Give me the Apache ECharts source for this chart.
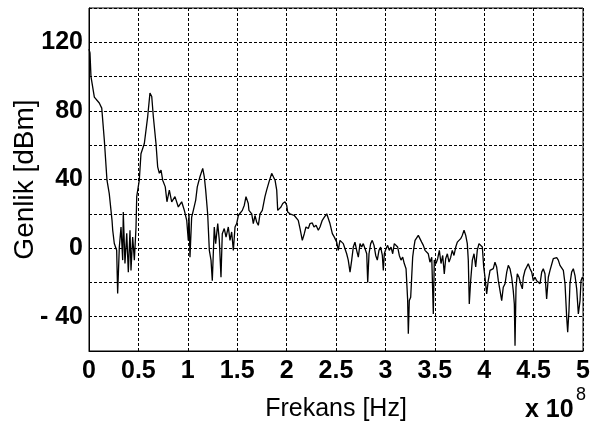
<!DOCTYPE html>
<html>
<head>
<meta charset="utf-8">
<script src="https://cdn.jsdelivr.net/npm/echarts@6/dist/echarts.min.js"></script>
<style>
  html, body { margin: 0; padding: 0; background: #fff; }
  #chart { width: 599px; height: 426px; }
</style>
</head>
<body>
<div id="chart"></div>
<script>
// frequency in units of 1e8 Hz, amplitude in dBm
const freq = [
  0.000, 0.010, 0.020, 0.054, 0.104, 0.129, 0.155, 0.182, 0.205, 0.233, 0.240, 0.256, 0.280, 0.290, 0.307, 0.324,
  0.341, 0.347, 0.364, 0.382, 0.398, 0.415, 0.425, 0.442, 0.459, 0.476, 0.483, 0.509, 0.526, 0.560, 0.594, 0.617,
  0.635, 0.651, 0.678, 0.695, 0.712, 0.729, 0.746, 0.772, 0.789, 0.813, 0.837, 0.870, 0.904, 0.938, 0.965, 0.989,
  1.005, 1.012, 1.022, 1.039, 1.056, 1.080, 1.096, 1.123, 1.151, 1.167, 1.181, 1.201, 1.218, 1.235, 1.248, 1.268,
  1.282, 1.303, 1.319, 1.336, 1.349, 1.369, 1.387, 1.410, 1.427, 1.444, 1.461, 1.478, 1.495, 1.511, 1.531, 1.552,
  1.572, 1.589, 1.612, 1.619, 1.647, 1.663, 1.680, 1.697, 1.714, 1.731, 1.754, 1.781, 1.798, 1.822, 1.849, 1.865,
  1.883, 1.900, 1.910, 1.923, 1.943, 1.961, 1.984, 2.001, 2.011, 2.034, 2.052, 2.078, 2.095, 2.118, 2.136, 2.159,
  2.179, 2.196, 2.220, 2.237, 2.260, 2.277, 2.298, 2.321, 2.338, 2.361, 2.382, 2.406, 2.416, 2.439, 2.463, 2.483,
  2.507, 2.523, 2.540, 2.558, 2.574, 2.591, 2.608, 2.624, 2.642, 2.659, 2.675, 2.692, 2.709, 2.726, 2.743, 2.760,
  2.776, 2.794, 2.811, 2.821, 2.834, 2.851, 2.867, 2.885, 2.902, 2.918, 2.935, 2.952, 2.969, 2.979, 2.989, 3.006,
  3.023, 3.039, 3.057, 3.074, 3.090, 3.107, 3.124, 3.141, 3.158, 3.175, 3.191, 3.209, 3.225, 3.232, 3.242, 3.256,
  3.266, 3.276, 3.289, 3.300, 3.317, 3.333, 3.350, 3.367, 3.384, 3.401, 3.418, 3.434, 3.451, 3.469, 3.485, 3.495,
  3.512, 3.529, 3.546, 3.563, 3.580, 3.596, 3.610, 3.627, 3.644, 3.661, 3.677, 3.694, 3.712, 3.728, 3.745, 3.762,
  3.778, 3.796, 3.813, 3.829, 3.839, 3.849, 3.863, 3.880, 3.897, 3.914, 3.930, 3.947, 3.964, 3.981, 3.995, 4.008,
  4.025, 4.041, 4.059, 4.076, 4.092, 4.109, 4.126, 4.143, 4.160, 4.177, 4.193, 4.211, 4.228, 4.244, 4.261, 4.278,
  4.294, 4.305, 4.312, 4.322, 4.335, 4.352, 4.369, 4.386, 4.396, 4.413, 4.430, 4.446, 4.464, 4.481, 4.497, 4.514,
  4.531, 4.548, 4.565, 4.582, 4.598, 4.615, 4.632, 4.649, 4.666, 4.683, 4.699, 4.717, 4.734, 4.750, 4.767, 4.784,
  4.801, 4.818, 4.835, 4.845, 4.858, 4.868, 4.885, 4.902, 4.919, 4.936, 4.953, 4.970, 4.980, 4.993, 5.000
];
const genlik = [
  116, 113.8, 100, 88, 84.6, 81.6, 63, 39.6, 31.8, 16.2, 10.4, 2.7, -1.3, -26.5, 0.6, 12.3,
  -7, 21, -9, 8.6, -14, 10.4, -13, 6.4, -7, 12.3, 30, 39.6, 55, 61, 76.7, 90.4,
  88.4, 76.7, 61, 47.4, 43.6, 45.5, 39.6, 35.7, 27, 33.8, 27, 30, 24, 27, 22, 16.2,
  4.5, 20, -5.3, 18, 22, 28, 35.7, 41.6, 46.5, 41.6, 33.8, 20, -1.3, -7, -19, 12.3,
  2.6, 14.3, 4.5, -17, 8.4, 11.4, 6.4, 12.3, 4.5, 9.4, -1.3, 12.3, 14.3, 19, 18, 22,
  25, 30, 26, 22, 20, 14.3, 19, 15.2, 13.3, 20, 22, 30, 33.8, 38.6, 43.6, 42.6,
  39.6, 33.8, 22, 21, 24, 26, 27, 25, 21, 20, 21, 19, 20, 16.2, 11.4, 4.5,
  8.4, 12.3, 11.4, 14.3, 14.7, 12.3, 13.3, 10.4, 12.3, 16.2, 18, 20, 19, 14.3, 8.4, 6.4,
  3.5, -1.3, 4.5, 5.5, 2.6, -0.4, -3.3, -7, -14, -7, 0.6, 3.5, -1.3, -5.3, 2.6, 0.6,
  2.6, -0.4, -3.3, -20, -3.3, 2.6, 4.5, 1.6, -4.3, -7, -1.3, 0.6, -4.3, -13, -3.3, -0.4,
  1.6, -1.3, 0.6, -3.3, 2.6, 3.5, 0.6, -4.3, -7, -5.3, -9, -12, -30, -50, -30.6, -28.7,
  -17, -5.3, 0.6, 4.5, 5.5, 7.4, 6.4, 3.5, 1.6, -1.3, -0.4, -3.3, -8.2, -5.3, -38.4, -7,
  -9, -6.2, -1.3, -9, -4.3, -15, -6.2, -3.3, -8.2, -5.3, -1.3, -4.3, 0.6, 3.5, 4.5, 5.5,
  7.4, 10.4, 7.4, 2.6, -7, -32.6, -19, -7, -3.3, -11, -1.3, 2.6, 3.5, 0.6, -11, -17,
  -26.7, -19, -13, -14, -12, -8.2, -11, -19, -24.8, -30.6, -22.8, -20.8, -14, -10.1, -12, -17,
  -24.8, -32.6, -57, -22.8, -15, -17, -20.8, -23.8, -17, -13, -11, -9.1, -12, -14, -19, -17,
  -19, -18, -20.8, -14, -12, -15, -29.6, -17, -13, -14, -6.2, -5.3, -5.6, -7, -10.1, -9.1,
  -13, -20.8, -40.4, -49, -36.5, -20.8, -14, -12, -16, -23.8, -38.4, -30.6, -19, -17, -18
];

const chart = echarts.init(document.getElementById('chart'));

const gridLine = { color: '#000', width: 1, type: [3, 2] };
const tickFont = { color: '#000', fontFamily: 'Liberation Sans, Arial, sans-serif', fontWeight: 'bold', fontSize: 25 };

chart.setOption({
  animation: false,
  backgroundColor: '#fff',
  grid: {
    left: 89, right: 16, top: 8, bottom: 75,
    containLabel: false, outerBoundsMode: 'none',
    show: true, borderColor: '#000', borderWidth: 1
  },
  xAxis: {
    type: 'value',
    min: 0, max: 5, interval: 0.5,
    name: 'Frekans [Hz]',
    nameLocation: 'middle',
    nameGap: 46,
    nameMoveOverlap: false,
    nameTextStyle: { color: '#000', fontFamily: 'Liberation Sans, Arial, sans-serif', fontSize: 25 },
    axisLine: { onZero: false, lineStyle: { color: '#000' } },
    axisTick: { show: false },
    axisLabel: Object.assign({ margin: 8 }, tickFont),
    splitLine: { show: true, lineStyle: gridLine }
  },
  yAxis: {
    type: 'value',
    min: -60, max: 140, interval: 20,
    name: 'Genlik [dBm]',
    nameLocation: 'middle',
    nameGap: 50,
    nameMoveOverlap: false,
    nameTextStyle: { color: '#000', fontFamily: 'Liberation Sans, Arial, sans-serif', fontSize: 28 },
    axisLine: { onZero: false, lineStyle: { color: '#000' } },
    axisTick: { show: false },
    axisLabel: Object.assign({
      margin: 6,
      formatter: v => (v % 40 === 0 ? (v < 0 ? '- ' + Math.abs(v) : String(v)) : '')
    }, tickFont),
    splitLine: { show: true, lineStyle: gridLine }
  },
  graphic: [
    { type: 'text', left: 525, top: 398, style: { text: 'x 10', fill: '#000', font: 'bold 25px Liberation Sans, Arial, sans-serif' } },
    { type: 'text', left: 576, top: 386, style: { text: '8', fill: '#000', font: '18px Liberation Sans, Arial, sans-serif' } }
  ],
  series: [{
    type: 'line',
    data: freq.map((f, i) => [f, genlik[i]]),
    showSymbol: false,
    lineStyle: { color: '#000', width: 1.3 }
  }]
});
</script>
</body>
</html>
